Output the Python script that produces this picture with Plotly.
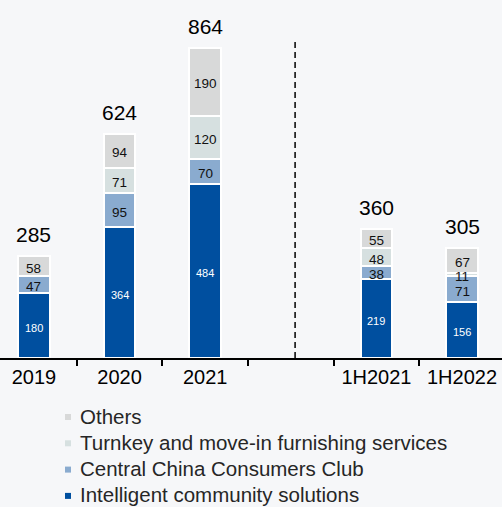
import plotly.graph_objects as go

# Revenue by segment (RMB million)
categories = ["2019", "2020", "2021", " ", "1H2021", "1H2022"]
intelligent = [180, 364, 484, None, 219, 156]
consumers_club = [47, 95, 70, None, 38, 71]
turnkey = [None, 71, 120, None, 48, 11]
others = [58, 94, 190, None, 55, 67]
totals = [285, 624, 864, None, 360, 305]

series = [
    ("Intelligent community solutions", intelligent, "#004f9f", "white", 11),
    ("Central China Consumers Club", consumers_club, "#8aabcf", "#111111", 13.5),
    ("Turnkey and move-in furnishing services", turnkey, "#d6e0e0", "#111111", 13.5),
    ("Others", others, "#d8d9d9", "#111111", 13.5),
]

W, H = 502, 507
PLOT_BOTTOM = 358  # pixel row of the x axis

fig = go.Figure()

# stacked bars
for name, vals, color, _, _ in series:
    fig.add_trace(go.Bar(
        x=categories, y=vals, name=name, width=0.37,
        marker=dict(color=color, line=dict(color="white", width=2)),
        showlegend=False, hoverinfo="skip",
    ))

# segment value labels (x given as category index)
base = [0] * len(categories)
for name, vals, color, tcolor, tsize in series:
    for i, v in enumerate(vals):
        if v is None:
            continue
        mid = base[i] + v / 2
        fig.add_annotation(x=i, y=mid, text=str(v), showarrow=False,
                           font=dict(color=tcolor, size=tsize), yshift=-2)
        base[i] += v

# totals above each stack
for i, t in enumerate(totals):
    if t is None:
        continue
    fig.add_annotation(x=i, y=t, text=str(t), showarrow=False,
                       yanchor="bottom", yshift=8,
                       font=dict(color="black", size=21))

# legend: small square swatches with labels, listed top to bottom
def py(px):
    return (PLOT_BOTTOM - px) / PLOT_BOTTOM

row0, row_gap = 416, 26.3
for k, (name, vals, color, _, _) in enumerate(reversed(series)):
    yc = row0 + k * row_gap
    fig.add_shape(type="rect", xref="paper", yref="paper",
                  x0=65 / W, x1=71 / W, y0=py(yc + 4), y1=py(yc - 2),
                  fillcolor=color, line=dict(width=0))
    fig.add_annotation(xref="paper", yref="paper", x=78 / W, y=py(yc),
                       xanchor="left", yanchor="middle", text=name,
                       showarrow=False, font=dict(size=20.5, color="#262626"))

# divider between annual and half-year periods
fig.add_shape(type="line", xref="x", yref="y", x0=3.05, x1=3.05, y0=0, y1=886,
              line=dict(color="black", width=1.5, dash="6px,4px"))

fig.update_layout(
    width=W, height=H,
    margin=dict(l=0, r=0, t=0, b=H - PLOT_BOTTOM),
    paper_bgcolor="#f6f7f9", plot_bgcolor="#f6f7f9",
    barmode="stack",
    font=dict(family="Liberation Sans, Arial, sans-serif", color="black"),
    showlegend=False,
    xaxis=dict(
        type="category", categoryorder="array", categoryarray=categories,
        range=[-0.397, 5.467],
        showline=True, linecolor="black", linewidth=1.5,
        ticks="outside", tickson="boundaries", ticklen=6, tickcolor="black",
        tickwidth=1.5,
        tickfont=dict(size=20, color="black"),
        showgrid=False, zeroline=False, fixedrange=True,
    ),
    yaxis=dict(range=[0, 997], visible=False, showgrid=False, zeroline=False),
)

fig.write_html("out.html")
